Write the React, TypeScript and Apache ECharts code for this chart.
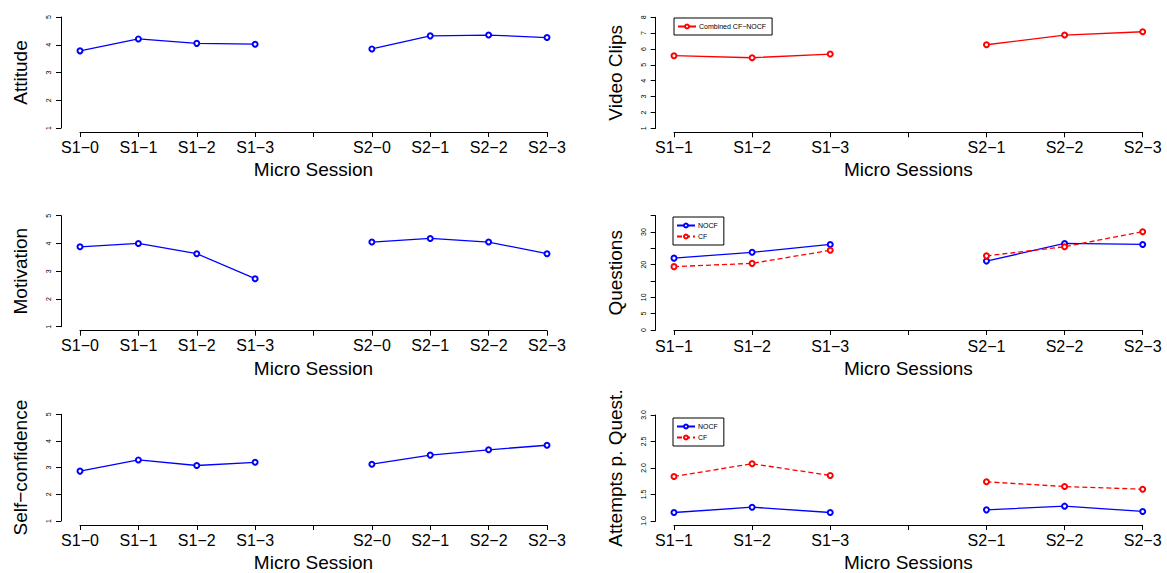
import React, { useEffect, useRef } from "react";
import * as echarts from "echarts";

const leftCats = ["S1−0", "S1−1", "S1−2", "S1−3", "", "S2−0", "S2−1", "S2−2", "S2−3"];
const rightCats = ["S1−1", "S1−2", "S1−3", "", "S2−1", "S2−2", "S2−3"];

const attitude = [3.78, 4.21, 4.05, 4.02, null, 3.85, 4.32, 4.35, 4.26];
const motivation = [3.88, 4.0, 3.63, 2.73, null, 4.05, 4.18, 4.05, 3.63];
const selfConfidence = [2.87, 3.29, 3.08, 3.2, null, 3.13, 3.47, 3.67, 3.84];

const videoClips = [5.58, 5.45, 5.68, null, 6.27, 6.88, 7.09];
const questionsNOCF = [22.0, 23.8, 26.2, null, 21.1, 26.5, 26.2];
const questionsCF = [19.4, 20.4, 24.4, null, 22.7, 25.5, 30.1];
const attemptsNOCF = [1.16, 1.26, 1.16, null, 1.21, 1.28, 1.18];
const attemptsCF = [1.84, 2.08, 1.86, null, 1.74, 1.65, 1.6];

const questionTickLabels: Record<number, string> = { 0: "0", 5: "5", 10: "10", 20: "20", 30: "30" };

const FONT = "'Liberation Sans', Arial, Helvetica, sans-serif";
const BLUE = "#0000ff";
const RED = "#ff0000";

export default function App() {
  const ref = useRef<HTMLDivElement>(null);
  useEffect(() => {
    if (!ref.current) return;
    const chart = echarts.init(ref.current, null, { renderer: "svg" });

    const grids = [
      { left: 80, top: 17, width: 467, height: 111 },
      { left: 80, top: 215.7, width: 467, height: 111 },
      { left: 80, top: 414.3, width: 467, height: 110.7 },
      { left: 674, top: 17.3, width: 468.7, height: 111 },
      { left: 674, top: 215.7, width: 468.7, height: 114.3 },
      { left: 674, top: 415, width: 468.7, height: 110.7 },
    ];

    const axisLine = { show: true, lineStyle: { color: "#000", width: 1 } };
    const axisTick = { show: true, length: 5, lineStyle: { color: "#000", width: 1 } };

    const mkX = (gi: number, cats: string[], name: string, offset = 4) => ({
      type: "category",
      gridIndex: gi,
      data: cats,
      boundaryGap: false,
      offset,
      axisLine,
      axisTick: { ...axisTick, interval: 0 },
      axisLabel: { interval: 0, fontSize: 16, color: "#000", fontFamily: FONT, margin: 7 },
      splitLine: { show: false },
      name,
      nameLocation: "middle",
      nameGap: 28,
      nameTextStyle: { fontSize: 19, color: "#000", fontFamily: FONT },
    });

    const mkY = (
      gi: number,
      min: number,
      max: number,
      interval: number,
      name: string,
      offset: number,
      fmt?: (v: number) => string
    ) => ({
      type: "value",
      gridIndex: gi,
      min,
      max,
      interval,
      offset,
      axisLine,
      axisTick,
      splitLine: { show: false },
      axisLabel: {
        rotate: 90,
        fontSize: 7,
        color: "#000",
        fontFamily: FONT,
        margin: 9,
        formatter: fmt,
      },
      name,
      nameLocation: "middle",
      nameGap: 31,
      nameTextStyle: { fontSize: 19, color: "#000", fontFamily: FONT },
    });

    const line = (
      name: string,
      gi: number,
      data: (number | null)[],
      color: string,
      dashed = false
    ) => ({
      type: "line",
      name,
      xAxisIndex: gi,
      yAxisIndex: gi,
      data,
      symbol: "emptyCircle",
      symbolSize: 5,
      showSymbol: true,
      connectNulls: false,
      lineStyle: { color, width: 1.3, type: dashed ? [5, 3] : "solid" },
      itemStyle: { color, borderColor: color, borderWidth: 1.3 },
      emphasis: { disabled: true },
    });

    const legendBase = {
      orient: "vertical",
      borderColor: "#000",
      borderWidth: 1,
      borderRadius: 0,
      itemWidth: 18,
      itemHeight: 5,
      itemGap: 4,
      padding: [5, 6, 5, 3],
      textStyle: { fontSize: 7, color: "#000", fontFamily: FONT, padding: [0, 0, 0, -2] },
      selectedMode: false,
    };

    chart.setOption({
      animation: false,
      backgroundColor: "#fff",
      grid: grids,
      xAxis: [
        mkX(0, leftCats, "Micro Session"),
        mkX(1, leftCats, "Micro Session"),
        mkX(2, leftCats, "Micro Session"),
        mkX(3, rightCats, "Micro Sessions"),
        mkX(4, rightCats, "Micro Sessions", 1),
        mkX(5, rightCats, "Micro Sessions"),
      ],
      yAxis: [
        mkY(0, 1, 5, 1, "Attitude", 19),
        mkY(1, 1, 5, 1, "Motivation", 19),
        mkY(2, 1, 5, 1, "Self−confidence", 19),
        mkY(3, 1, 8, 1, "Video Clips", 18.3),
        mkY(4, 0, 35, 5, "Questions", 18.3, (v: number) => questionTickLabels[v] ?? ""),
        mkY(5, 1, 3, 0.5, "Attempts p. Quest.", 18.3, (v: number) => v.toFixed(1)),
      ],
      legend: [
        { ...legendBase, left: 674, top: 18, data: ["Combined CF−NOCF"] },
        { ...legendBase, left: 673, top: 217, data: ["NOCF", "CF"] },
        { ...legendBase, left: 673, top: 418, data: ["NOCF", "CF"] },
      ],
      series: [
        line("Attitude", 0, attitude, BLUE),
        line("Motivation", 1, motivation, BLUE),
        line("Self-confidence", 2, selfConfidence, BLUE),
        line("Combined CF−NOCF", 3, videoClips, RED),
        line("NOCF", 4, questionsNOCF, BLUE),
        line("CF", 4, questionsCF, RED, true),
        line("NOCF", 5, attemptsNOCF, BLUE),
        line("CF", 5, attemptsCF, RED, true),
      ],
    });
    return () => chart.dispose();
  }, []);
  return (
    <div
      ref={ref}
      style={{ position: "fixed", left: 0, top: 0, width: 1167, height: 573, background: "#fff" }}
    />
  );
}
